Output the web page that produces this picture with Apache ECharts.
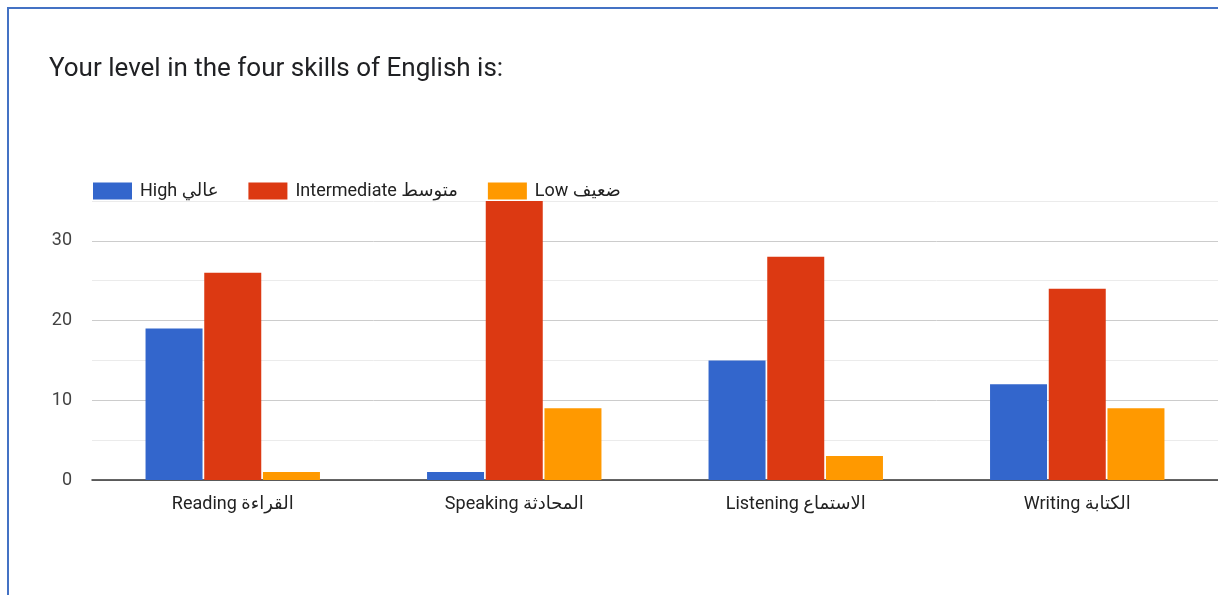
<!DOCTYPE html>
<html>
<head>
<meta charset="utf-8">
<script src="https://cdn.jsdelivr.net/npm/echarts@6/dist/echarts.min.js"></script>
<style>
  html, body { margin: 0; padding: 0; background: #fff; }
  #chart { width: 1218px; height: 595px; }
</style>
</head>
<body>
<div id="chart"></div>
<script>
// Survey answers: self-rated level per English skill
const skills = ['Reading القراءة', 'Speaking المحادثة', 'Listening الاستماع', 'Writing الكتابة'];
const levelNames = ['High عالي', 'Intermediate متوسط', 'Low ضعيف'];
const highCounts = [19, 1, 15, 12];
const intermediateCounts = [26, 35, 28, 24];
const lowCounts = [1, 9, 3, 9];
const yTicks = [0, 10, 20, 30];

const FONT = 'Roboto, "DejaVu Sans", sans-serif';
const colors = ['#3366cc', '#dc3912', '#ff9900'];

const chart = echarts.init(document.getElementById('chart'), null, { renderer: 'canvas' });

const seriesValues = [highCounts, intermediateCounts, lowCounts];

chart.setOption({
  animation: false,
  backgroundColor: '#ffffff',
  color: colors,
  textStyle: { fontFamily: FONT },
  graphic: [{
    type: 'rect',
    z: 100,
    shape: { x: 8, y: 8, width: 1400, height: 800 },
    style: { fill: 'none', stroke: '#4472c4', lineWidth: 2 }
  }],
  title: {
    text: 'Your level in the four skills of English is:',
    left: 49,
    top: 56,
    padding: 0,
    textStyle: { fontFamily: FONT, fontSize: 26, fontWeight: 'normal', color: '#202124' }
  },
  legend: {
    left: 93,
    top: 182,
    padding: 0,
    itemWidth: 39,
    itemHeight: 17,
    itemGap: 30,
    icon: 'rect',
    data: levelNames,
    textStyle: { fontFamily: FONT, fontSize: 18, color: '#222', padding: [0, 0, 0, 3] }
  },
  grid: { left: 92, right: 0, top: 201, bottom: 115, containLabel: false },
  xAxis: {
    type: 'category',
    data: skills,
    axisTick: { show: false },
    axisLine: { show: true, lineStyle: { color: '#333', width: 1.5 } },
    axisLabel: { fontFamily: FONT, fontSize: 18, color: '#222', margin: 15 }
  },
  yAxis: {
    type: 'value',
    min: 0,
    max: 35,
    interval: 5,
    axisLine: { show: false },
    axisTick: { show: false },
    axisLabel: {
      fontFamily: FONT,
      fontSize: 18,
      color: '#444',
      margin: 20,
      formatter: v => (yTicks.includes(v) ? String(v) : '')
    },
    splitLine: { show: true, lineStyle: { color: ['#cccccc', '#ebebeb'], width: 1 } }
  },
  series: levelNames.map((name, i) => ({
    name,
    type: 'bar',
    data: seriesValues[i],
    barWidth: 57,
    barGap: '3%',
    itemStyle: { color: colors[i] }
  }))
});
</script>
</body>
</html>
